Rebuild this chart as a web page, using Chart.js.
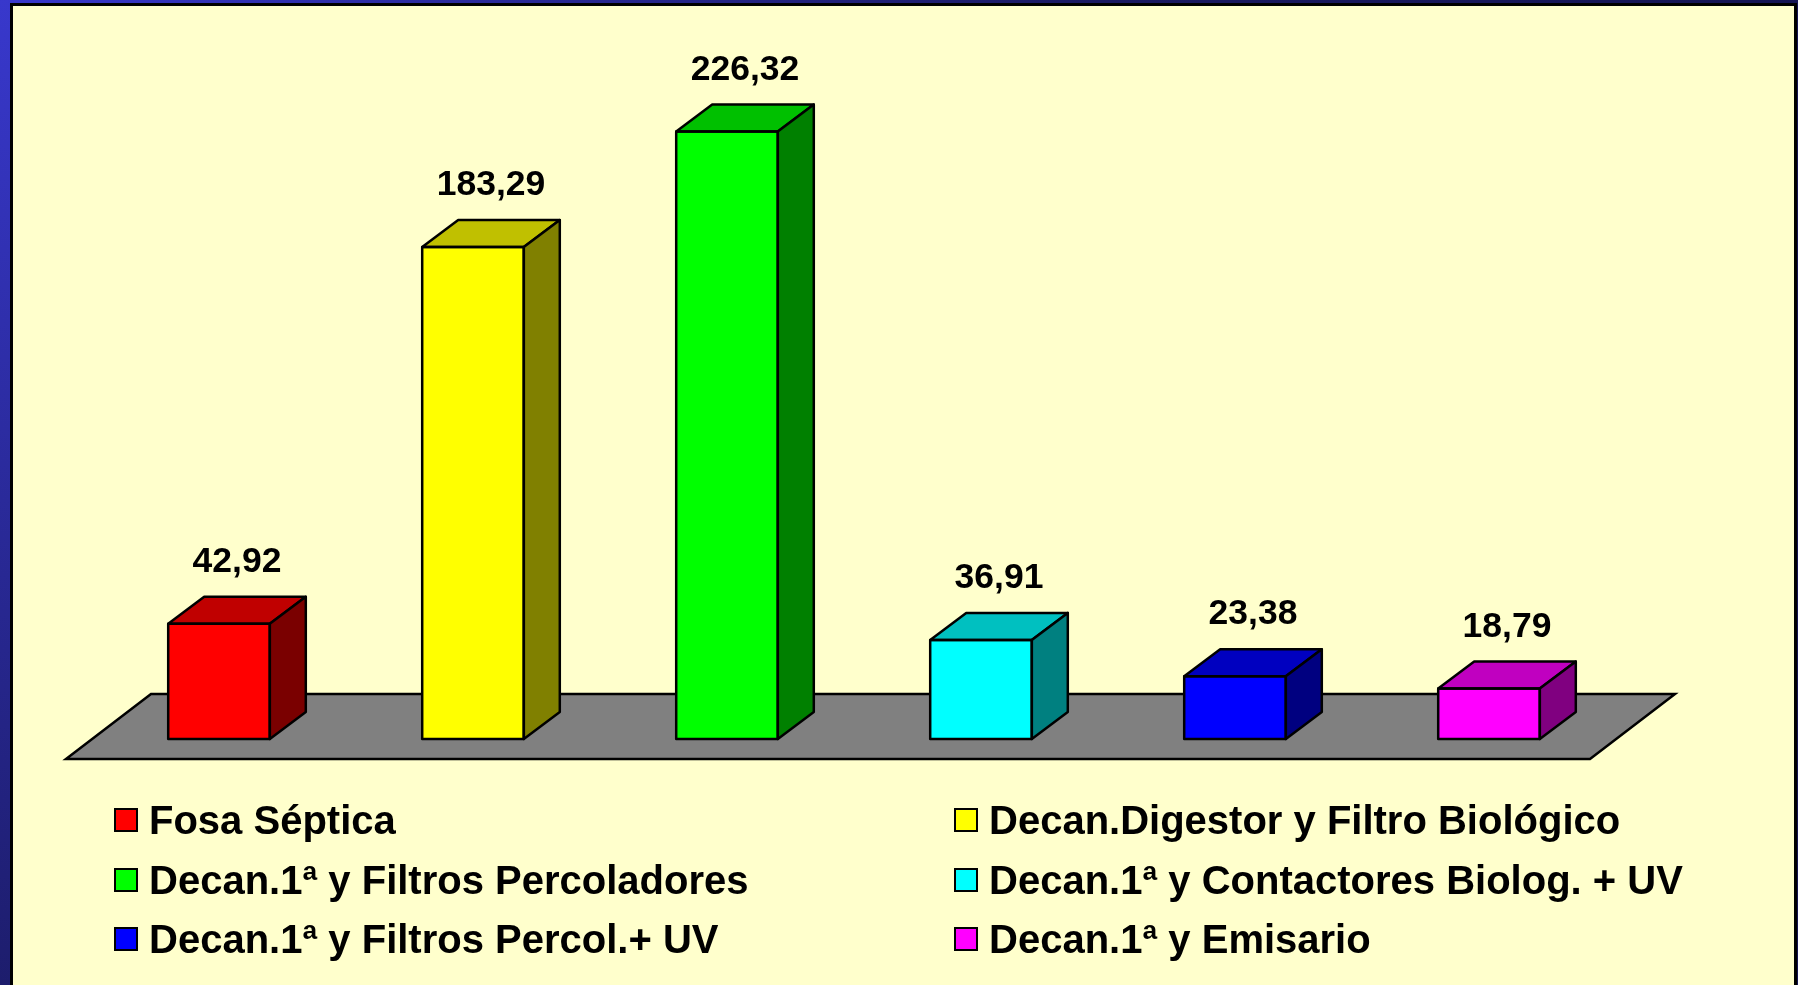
<!DOCTYPE html>
<html>
<head>
<meta charset="utf-8">
<script src="https://cdn.jsdelivr.net/npm/chart.js@4.4.0/dist/chart.umd.min.js"></script>
<style>
html,body{margin:0;padding:0;width:1798px;height:985px;overflow:hidden;}
body{position:relative;background:radial-gradient(circle at 0 0,#3838cc 0px,#2a2a9a 500px,#1a1a62 1100px,#131350 2000px);font-family:"Liberation Sans",Arial,sans-serif;}
#panel{position:absolute;left:10px;top:3px;width:1781px;height:1000px;background:#FFFFCC;border:3px solid #000;box-sizing:content-box;}
#chart{position:absolute;left:0;top:0;}
#legend{position:absolute;left:0;top:0;width:1798px;height:985px;pointer-events:none;}
.item{position:absolute;display:flex;align-items:center;height:40px;white-space:nowrap;}
.box{width:20px;height:20px;border:2px solid #000;flex:none;}
.txt{font:bold 40px "Liberation Sans",Arial,sans-serif;line-height:40px;color:#000;margin-left:11px;}
</style>
</head>
<body>
<div id="panel"></div>
<canvas id="chart" width="1798" height="985"></canvas>
<div id="legend"></div>
<script>
// ---- data ----
const categories = [
  'Fosa Séptica',
  'Decan.Digestor y Filtro Biológico',
  'Decan.1ª y Filtros Percoladores',
  'Decan.1ª y Contactores Biolog. + UV',
  'Decan.1ª y Filtros Percol.+ UV',
  'Decan.1ª y Emisario'
];
const values = [42.92, 183.29, 226.32, 36.91, 23.38, 18.79];
const frontColors = ['#FF0000', '#FFFF00', '#00FF00', '#00FFFF', '#0000FF', '#FF00FF'];
const topColors   = ['#C00000', '#C0C000', '#00C000', '#00C0C0', '#0000C0', '#C000C0'];
const sideColors  = ['#7A0000', '#808000', '#008000', '#008080', '#000080', '#800080'];

function fmt(v){ return v.toFixed(2).replace('.', ','); }

// ---- 3D look ----
const DX = 36, DY = 27;
const threeD = {
  id: 'threeD',
  beforeDatasetsDraw(chart){
    const ctx = chart.ctx, a = chart.chartArea;
    const base = chart.scales.y.getPixelForValue(0);
    ctx.save();
    ctx.beginPath();
    ctx.moveTo(a.left - 26, base + 20);
    ctx.lineTo(a.right - 26, base + 20);
    ctx.lineTo(a.right + 59, base - 45);
    ctx.lineTo(a.left + 59, base - 45);
    ctx.closePath();
    ctx.fillStyle = '#808080';
    ctx.fill();
    ctx.lineWidth = 2.5;
    ctx.strokeStyle = '#000';
    ctx.lineJoin = 'miter';
    ctx.stroke();
    ctx.restore();
  },
  afterDatasetsDraw(chart){
    const ctx = chart.ctx;
    const meta = chart.getDatasetMeta(0);
    ctx.save();
    ctx.lineWidth = 2.5;
    ctx.strokeStyle = '#000';
    ctx.lineJoin = 'round';
    meta.data.forEach((el, i) => {
      const p = el.getProps(['x','y','base','width'], true);
      const x0 = p.x - p.width/2, x1 = p.x + p.width/2, yt = p.y, yb = p.base;
      // top face
      ctx.beginPath();
      ctx.moveTo(x0, yt); ctx.lineTo(x0 + DX, yt - DY); ctx.lineTo(x1 + DX, yt - DY); ctx.lineTo(x1, yt); ctx.closePath();
      ctx.fillStyle = topColors[i]; ctx.fill(); ctx.stroke();
      // side face
      ctx.beginPath();
      ctx.moveTo(x1, yt); ctx.lineTo(x1 + DX, yt - DY); ctx.lineTo(x1 + DX, yb - DY); ctx.lineTo(x1, yb); ctx.closePath();
      ctx.fillStyle = sideColors[i]; ctx.fill(); ctx.stroke();
      // front outline
      ctx.strokeRect(x0, yt, p.width, yb - yt);
      // value label
      ctx.fillStyle = '#000';
      ctx.font = 'bold 35.5px "Liberation Sans", Arial, sans-serif';
      ctx.textAlign = 'center';
      ctx.textBaseline = 'alphabetic';
      ctx.fillText(fmt(values[i]), p.x + DX/2, yt - DY - 25);
    });
    ctx.restore();
  }
};

new Chart(document.getElementById('chart'), {
  type: 'bar',
  data: {
    labels: categories,
    datasets: [{
      data: values,
      backgroundColor: frontColors,
      borderWidth: 0,
      barPercentage: 0.4,
      categoryPercentage: 1
    }]
  },
  options: {
    responsive: false,
    animation: false,
    devicePixelRatio: 1,
    layout: { padding: { left: 92, right: 182, top: 68, bottom: 246 } },
    scales: {
      x: { display: false },
      y: { display: false, min: 0, max: 250 }
    },
    plugins: { legend: { display: false }, tooltip: { enabled: false } }
  },
  plugins: [threeD]
});

// ---- legend (2 columns) ----
const legend = document.getElementById('legend');
const colLeft = [114, 954];
categories.forEach((c, i) => {
  const row = Math.floor(i / 2), col = i % 2;
  const d = document.createElement('div');
  d.className = 'item';
  d.style.left = colLeft[col] + 'px';
  d.style.top = (800 + row * 59.7) + 'px';
  const b = document.createElement('div');
  b.className = 'box';
  b.style.background = frontColors[i];
  const t = document.createElement('span');
  t.className = 'txt';
  t.textContent = c;
  d.appendChild(b); d.appendChild(t);
  legend.appendChild(d);
});
</script>
</body>
</html>
